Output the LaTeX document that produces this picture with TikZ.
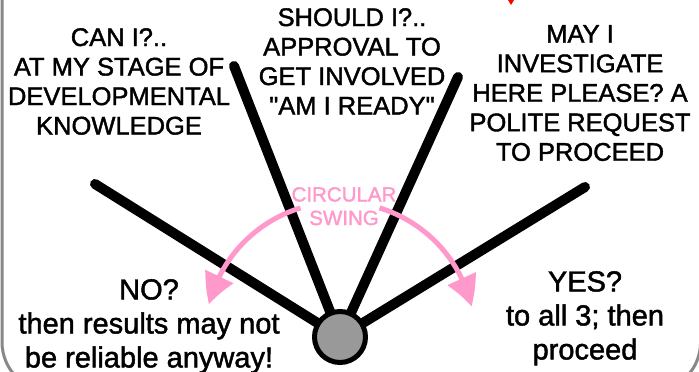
\documentclass[tikz,border=0pt]{standalone}
\usepackage{fontspec}
\setmainfont{Liberation Sans}
\newfontfamily\heavyfont[FakeBold=1.6]{Liberation Sans}
\usetikzlibrary{arrows.meta,bending}
\definecolor{swingpink}{RGB}{255,153,204}
\definecolor{framegray}{RGB}{136,136,136}
\definecolor{pivotgray}{RGB}{153,153,153}
\begin{document}
\begin{tikzpicture}[x=1pt,y=-1pt,
  arm/.style={line width=10pt, line cap=round},
  armtext/.style={align=center, inner sep=0pt, anchor=north, font=\heavyfont\fontsize{25.5}{29.5}\selectfont},
  answer/.style={align=center, inner sep=0pt, anchor=north, font=\heavyfont\fontsize{29}{34}\selectfont},
  swingtext/.style={align=center, inner sep=0pt, anchor=north, text=swingpink, font=\heavyfont\fontsize{20.5}{23.5}\selectfont},
  swing/.style={draw=swingpink, line width=5pt, -{Triangle[length=30pt,width=30pt,bend]}}
]
\useasboundingbox (0,0) rectangle (699,372);
\clip (0,0) rectangle (699,372);
\fill[white] (0,0) rectangle (699,372);
\draw[framegray, line width=3pt, rounded corners=50pt] (2,-100) -- (2,392) -- (700.6,392) -- (700.6,-100);
\fill[red] (508,0) -- (514,0) -- (511,5) -- cycle;
\coordinate (p) at (340,337);
\coordinate (e1) at (95,184);
\coordinate (e2) at (234,66);
\coordinate (e3) at (458,77);
\coordinate (e4) at (585,187);
\draw[arm] (e1) -- (p);
\draw[arm] (e2) -- (p);
\draw[arm] (e3) -- (p);
\draw[arm] (e4) -- (p);
\node[circle, draw, line width=5pt, fill=pivotgray, minimum size=51pt, inner sep=0pt] (pivot) at (p) {};
\draw[swing] ([shift={(-107:135)}]p) arc[start angle=-107, end angle=-166, radius=135];
\draw[swing] ([shift={(-73:135)}]p) arc[start angle=-73, end angle=-13, radius=135];
\node[armtext] (can) at (119,28) {CAN I?..\\AT MY STAGE OF\\DEVELOPMENTAL\\KNOWLEDGE};
\node[armtext] (should) at (352,8) {SHOULD I?..\\APPROVAL TO\\GET INVOLVED\\"AM I READY"};
\node[armtext] (may) at (580,25) {MAY I\\INVESTIGATE\\HERE PLEASE? A\\POLITE REQUEST\\TO PROCEED};
\node[answer] (no) at (149,279) {NO?\\then results may not\\be reliable anyway!};
\node[answer] (yes) at (585,271) {YES?\\to all 3; then\\proceed};
\node[swingtext] (swingtxt) at (344,187) {CIRCULAR\\SWING};
\end{tikzpicture}
\end{document}
